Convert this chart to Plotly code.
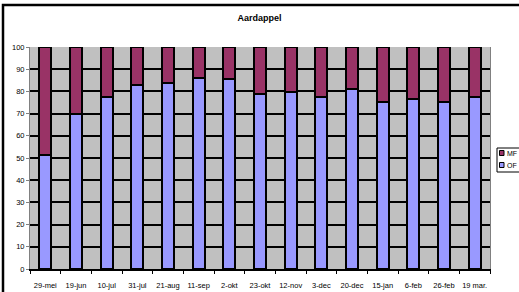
import plotly.graph_objects as go

categories = ["29-mei", "19-jun", "10-jul", "31-jul", "21-aug", "11-sep", "2-okt", "23-okt",
              "12-nov", "3-dec", "20-dec", "15-jan", "6-feb", "26-feb", "19 mar."]
of_values = [51.2, 70.0, 77.4, 82.7, 83.6, 86.2, 85.4, 78.9, 79.8, 77.4, 80.9, 75.3, 76.4, 75.3, 77.4]
mf_values = [round(100 - v, 1) for v in of_values]
series_names = ["MF", "OF"]
series_colors = ["#993366", "#9999ff"]

fig = go.Figure()
fig.add_trace(go.Bar(name="OF", x=categories, y=of_values, showlegend=False, hoverinfo="skip",
                     marker=dict(color=series_colors[1], line=dict(color="black", width=2))))
fig.add_trace(go.Bar(name="MF", x=categories, y=mf_values, showlegend=False, hoverinfo="skip",
                     marker=dict(color=series_colors[0], line=dict(color="black", width=2))))

L, R, T, B = 30, 29, 47, 23
W, H = 519, 292
pw, ph = W - L - R, H - T - B

def px(x):
    return (x - L) / pw

def py(y):
    return (H - B - y) / ph

shapes = [
    dict(type="rect", xref="paper", yref="paper",
         x0=px(3), x1=px(W + 20), y0=py(H + 20), y1=py(5),
         line=dict(color="black", width=2.5), fillcolor="rgba(0,0,0,0)", layer="below"),
    dict(type="rect", xref="paper", yref="paper",
         x0=px(497), x1=px(W + 20), y0=py(172), y1=py(148),
         line=dict(color="black", width=1), fillcolor="white", layer="above"),
]
annotations = []
for i, (name, col) in enumerate(zip(series_names, series_colors)):
    yc = 153 + i * 12
    shapes.append(dict(type="rect", xref="paper", yref="paper",
                       x0=px(499.5), x1=px(504), y0=py(yc + 2.5), y1=py(yc - 2.5),
                       line=dict(color="black", width=1), fillcolor=col, layer="above"))
    annotations.append(dict(text=name, xref="paper", yref="paper", x=px(504.5), y=py(yc),
                            xanchor="left", yanchor="middle", showarrow=False,
                            font=dict(size=7)))

fig.update_layout(
    width=W, height=H,
    margin=dict(l=L, r=R, t=T, b=B, autoexpand=False),
    barmode="stack", bargap=0.6,
    plot_bgcolor="#c0c0c0", paper_bgcolor="white",
    font=dict(family="Liberation Sans, Arial, sans-serif", size=8, color="black"),
    title=dict(text="<b>Aardappel</b>", x=0.5, xanchor="center", y=1 - 18 / H, yanchor="middle",
               font=dict(size=9)),
    showlegend=False,
    hovermode=False,
    xaxis=dict(showgrid=False, showline=True, linecolor="black", linewidth=1.5,
               ticks="outside", tickson="boundaries", ticklen=3, tickcolor="black",
               tickangle=0, tickfont=dict(size=7.5), zeroline=False, ticklabelstandoff=8,
               automargin=False),
    yaxis=dict(range=[0, 100], dtick=10, showgrid=True, gridcolor="black", gridwidth=2,
               showline=True, linecolor="#808080", linewidth=1, mirror=True,
               ticks="outside", ticklen=3, tickcolor="#808080",
               tickfont=dict(size=7.5), zeroline=False, automargin=False),
    shapes=shapes,
    annotations=annotations,
)

fig.write_html("out.html", config={"displayModeBar": False, "staticPlot": True},
               post_script="document.body.style.margin='0';document.body.style.overflow='hidden';")
